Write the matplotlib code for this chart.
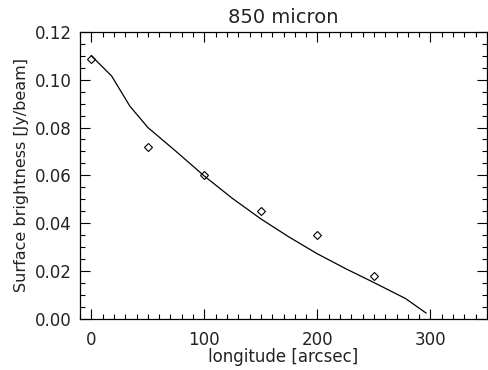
import matplotlib

matplotlib.use("Agg")
import matplotlib.pyplot as plt
from matplotlib.ticker import MultipleLocator

plt.rcParams["font.family"] = "DejaVu Sans"
plt.rcParams["font.stretch"] = "normal"

# observed profile (diamonds)
obs_x = [0, 50, 100, 150, 200, 250]
obs_y = [0.1085, 0.0717, 0.0600, 0.0450, 0.0350, 0.0180]

# model profile (solid line)
model_x = [0, 18, 34, 50, 75, 100, 125, 150, 175, 200, 225, 250, 278, 296]
model_y = [0.110, 0.1015, 0.0890, 0.0800, 0.0700, 0.0597, 0.0503, 0.0418,
           0.0342, 0.0272, 0.0210, 0.0152, 0.0085, 0.0025]

fig = plt.figure(figsize=(4.88, 3.70), dpi=100)
ax = fig.add_axes([0.164, 0.138, 0.834, 0.776])

ax.plot(model_x, model_y, color="black", lw=0.9)
ax.plot(obs_x, obs_y, linestyle="none", marker="D", markersize=4.5,
        markerfacecolor="none", markeredgecolor="black", markeredgewidth=0.8)

ax.set_xlim(-10, 350)
ax.set_ylim(0, 0.12)
ax.xaxis.set_major_locator(MultipleLocator(100))
ax.xaxis.set_minor_locator(MultipleLocator(10))
ax.yaxis.set_major_locator(MultipleLocator(0.02))
ax.yaxis.set_minor_locator(MultipleLocator(0.005))
ax.yaxis.set_major_formatter(lambda v, p: f"{v:.2f}")

txt = "#222222"
ax.tick_params(which="both", direction="in", top=True, right=True,
               labelsize=12, width=0.8, labelcolor=txt)
ax.tick_params(which="major", length=7)
ax.tick_params(axis="x", which="major", pad=9)
ax.tick_params(axis="y", which="major", pad=6)
ax.tick_params(which="minor", length=3.5)
for s in ax.spines.values():
    s.set_linewidth(0.9)

ax.set_title("850 micron", fontsize=14, pad=6, color=txt)
ax.set_xlabel("longitude [arcsec]", fontsize=12, color=txt, labelpad=-1)
ax.set_ylabel("Surface brightness [Jy/beam]", fontsize=11.5, color=txt)

fig.savefig("out.png", dpi=100)
